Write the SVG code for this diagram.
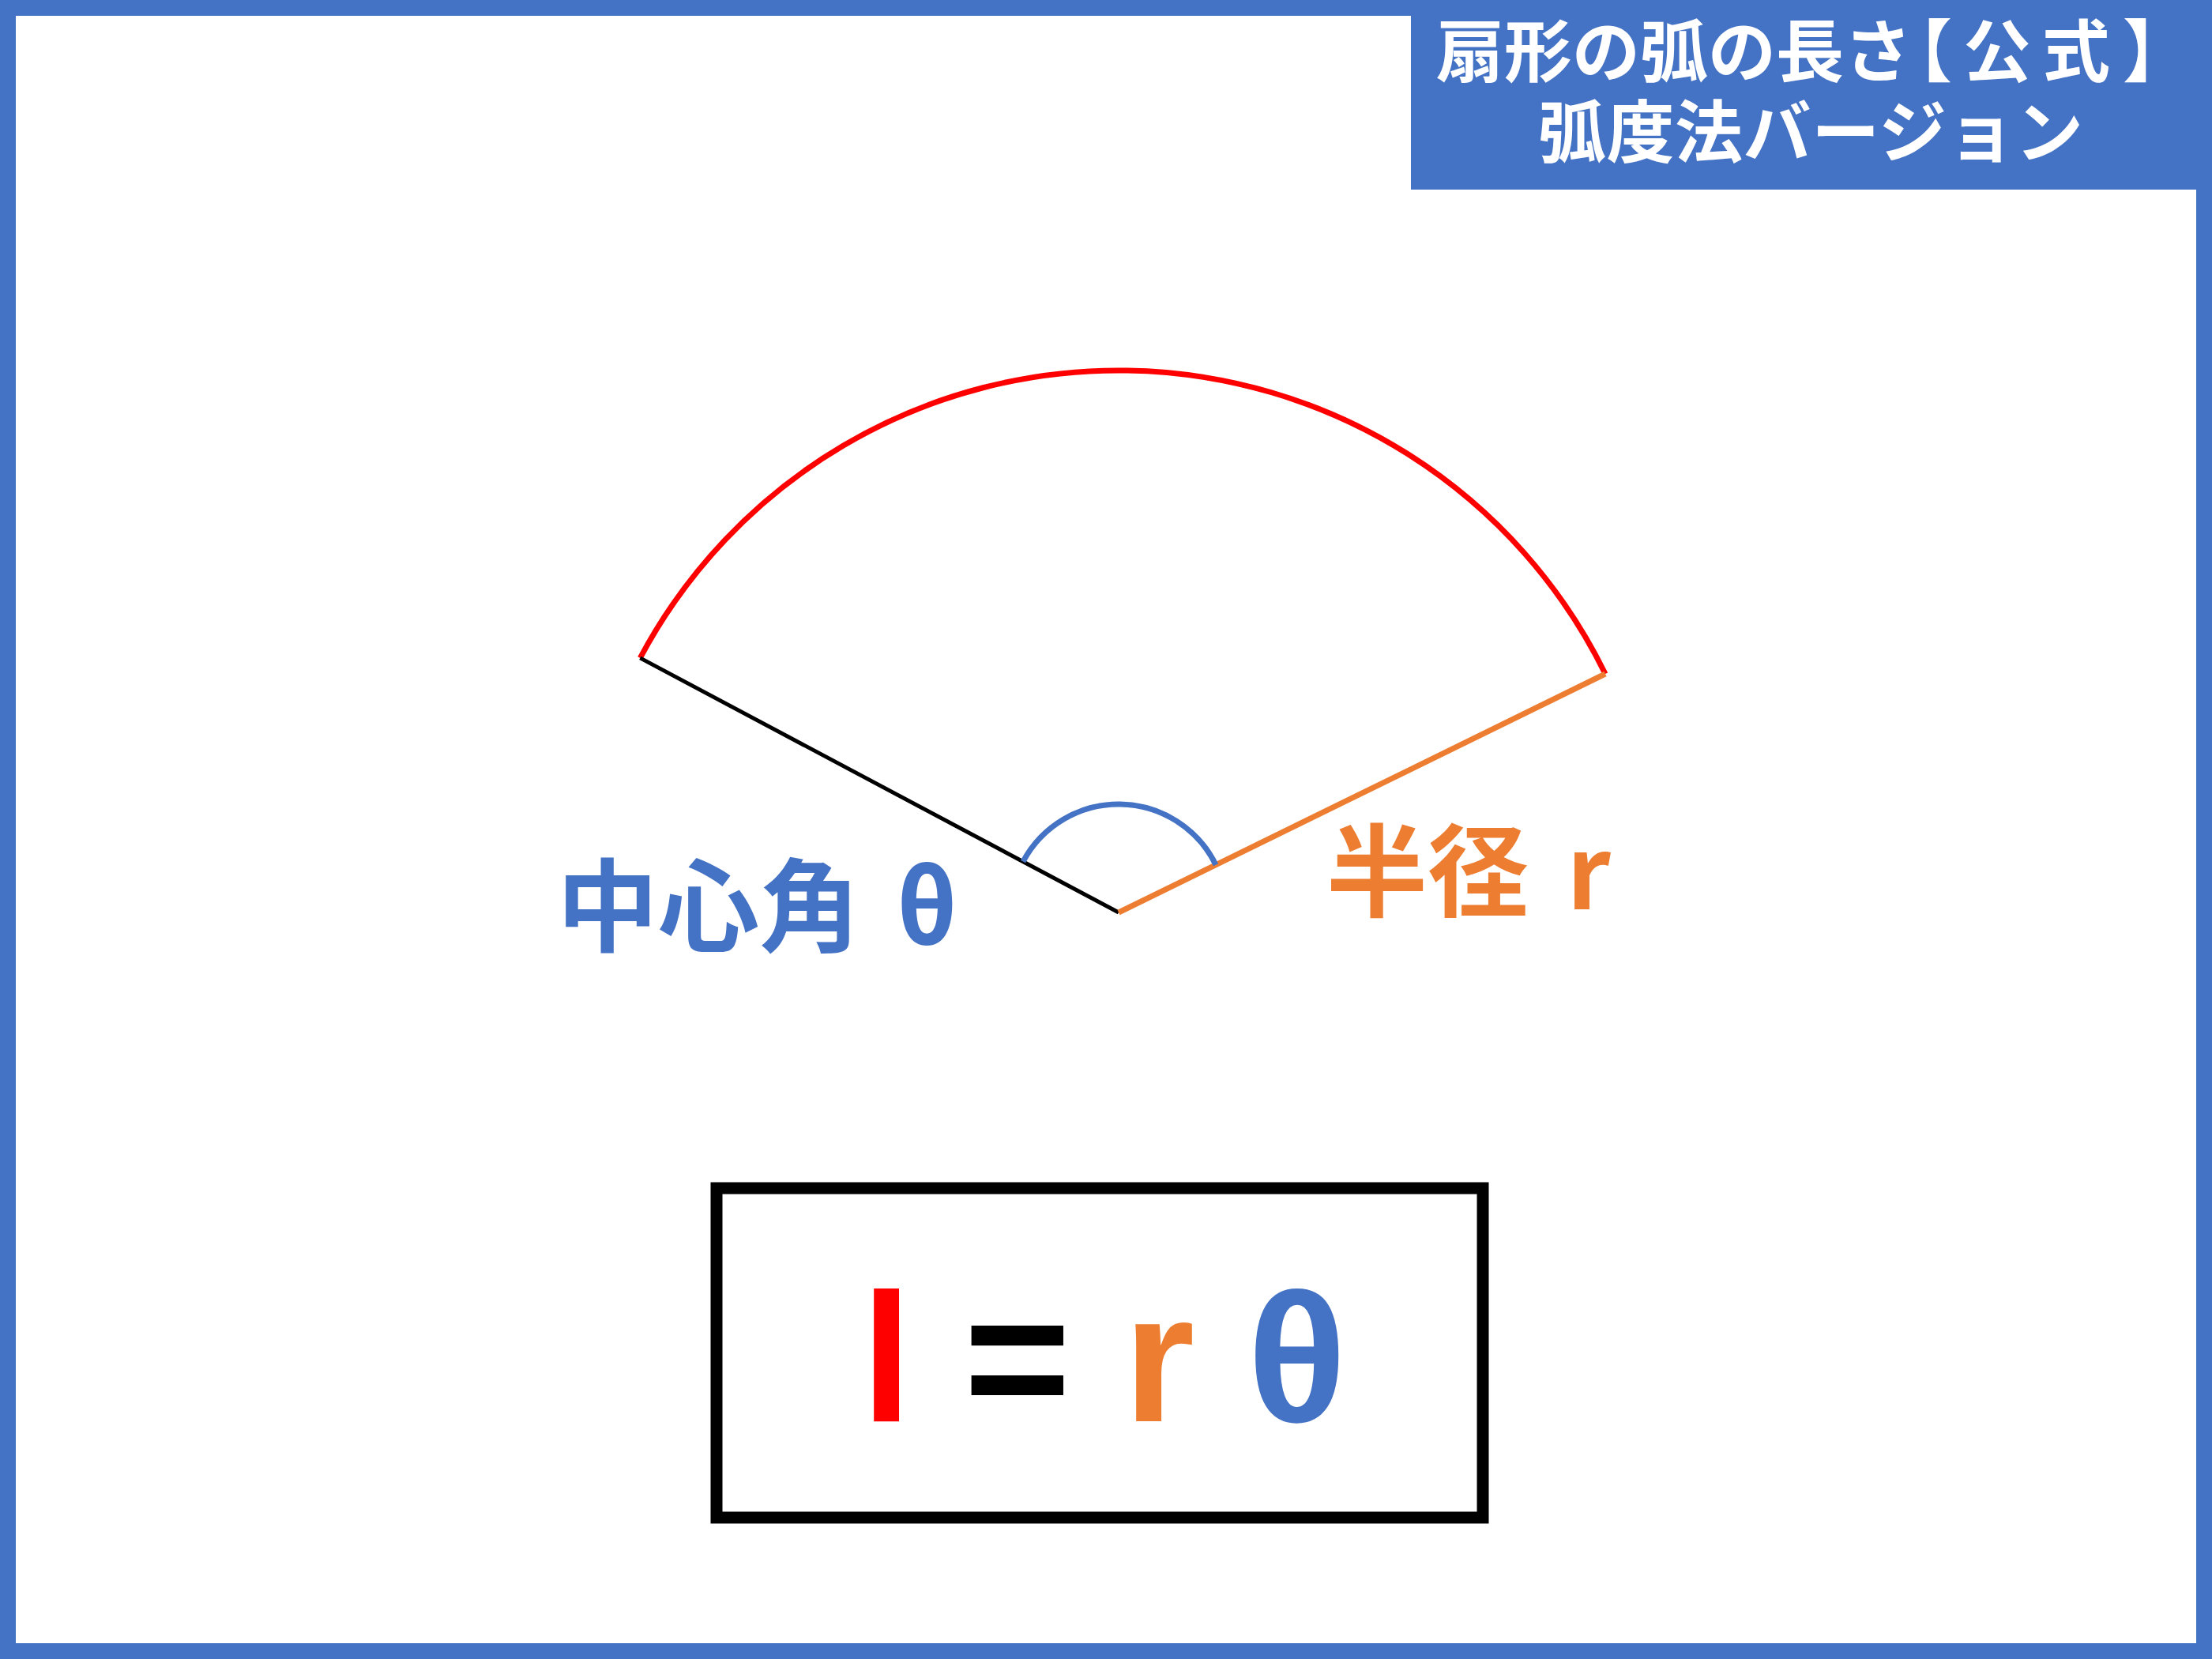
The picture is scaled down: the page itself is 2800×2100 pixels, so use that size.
<svg xmlns="http://www.w3.org/2000/svg" width="2800" height="2100" viewBox="0 0 2800 2100">
<style>
.jp{font-family:"Noto Sans CJK JP","Noto Sans CJK SC",sans-serif;font-weight:bold}
.f{font-family:"Liberation Sans",Arial,sans-serif;font-weight:bold;font-size:232px}
</style>
<rect x="0" y="0" width="2800" height="2100" fill="#FFFFFF"/>
<rect x="10" y="10" width="2780" height="2080" fill="none" stroke="#4472C4" stroke-width="20"/>
<g id="title">
<rect x="1786" y="0" width="1014" height="240" fill="#4472C4"/>
<text class="jp" x="1818 1904 1990 2076 2162 2248 2334 2385 2485 2585 2687" y="97" font-size="86" fill="#FFFFFF">扇形の弧の長さ【公式】</text>
<text class="jp" x="1947" y="199" font-size="86" fill="#FFFFFF" textLength="690" lengthAdjust="spacing">弧度法バージョン</text>
</g>
<g id="sector">
<path d="M 810.3 832.9 A 686 686 0 0 1 2032 853" fill="none" stroke="#FF0000" stroke-width="7"/>
<line x1="810.3" y1="832.9" x2="1416" y2="1155" stroke="#000000" stroke-width="5"/>
<line x1="1416" y1="1155" x2="2032" y2="853" stroke="#ED7D31" stroke-width="7"/>
<path d="M 1295 1090.7 A 137 137 0 0 1 1539 1094.7" fill="none" stroke="#4472C4" stroke-width="7"/>
</g>
<g id="label-angle">
<text class="jp" x="705" y="1195" font-size="128" fill="#4472C4">中心角 <tspan x="1134">θ</tspan></text>
</g>
<g id="label-radius">
<text class="jp" x="1679" y="1151" font-size="128" fill="#ED7D31">半径 <tspan x="1983">r</tspan></text>
</g>
<g id="formula">
<rect x="907" y="1504" width="970" height="417" fill="none" stroke="#000000" stroke-width="15"/>
<text class="f" x="1090" y="1799" fill="#FF0000">l</text>
<text class="f" x="1220" y="1799" fill="#000000">=</text>
<text class="f" x="1422" y="1799" fill="#ED7D31">r</text>
<text class="f" x="1579" y="1799" fill="#4472C4">θ</text>
</g>
</svg>
